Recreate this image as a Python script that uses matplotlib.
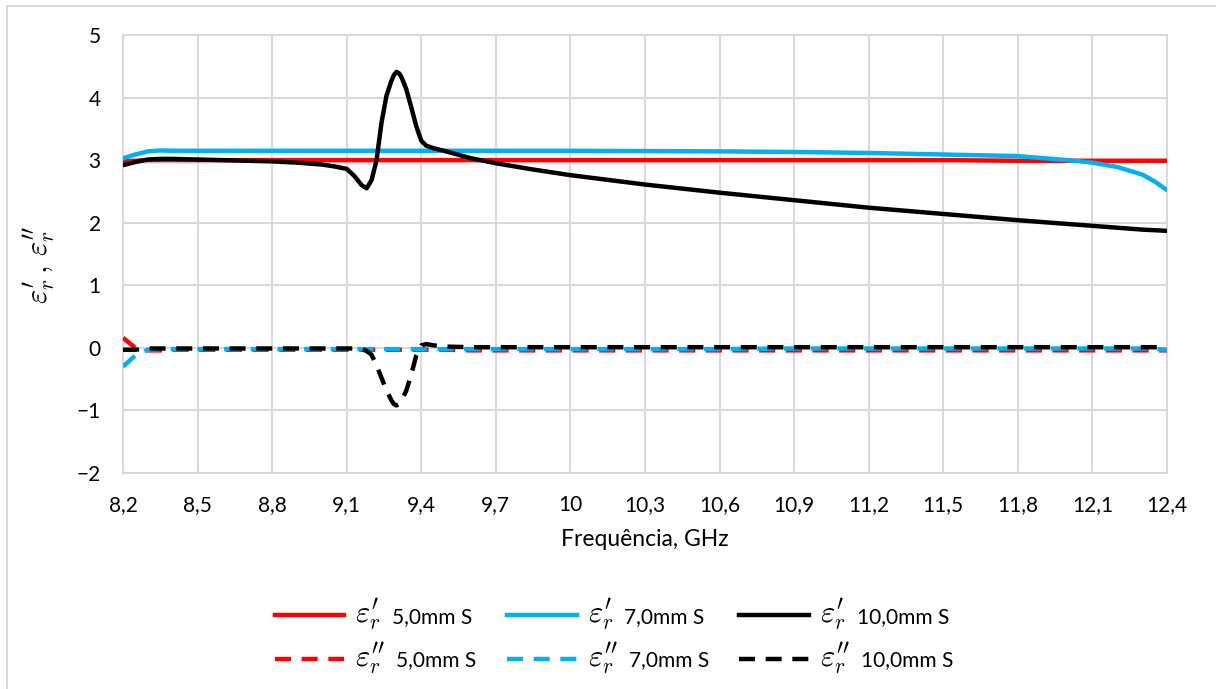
import matplotlib
matplotlib.use('Agg')
import matplotlib.pyplot as plt
from matplotlib.lines import Line2D
from matplotlib.patches import Rectangle
from matplotlib.offsetbox import (AnchoredOffsetbox, DrawingArea, HPacker,
                                  TextArea, VPacker)

plt.rcParams['font.family'] = ['Lato', 'DejaVu Sans']
plt.rcParams['mathtext.fontset'] = 'cm'

# Frequency grid (GHz) shared by all series
freq = [8.2, 8.25, 8.3, 8.35, 8.4, 8.5, 8.6, 8.7, 8.8, 8.9, 9.0, 9.05, 9.1,
        9.13, 9.16, 9.18, 9.2, 9.22, 9.24, 9.26, 9.28, 9.29, 9.3, 9.31, 9.32,
        9.34, 9.36, 9.38, 9.4, 9.42, 9.45, 9.5, 9.6, 9.7, 9.85, 10.0, 10.3,
        10.6, 10.9, 11.2, 11.5, 11.8, 12.0, 12.1, 12.2, 12.3, 12.35, 12.4]

# real part, eps'
eps1_5mm = [2.98, 2.99, 3.00, 3.00, 3.00, 3.00, 3.00, 3.00, 3.00, 3.00, 3.00,
            3.00, 3.00, 3.00, 3.00, 3.00, 3.00, 3.00, 3.00, 3.00, 3.00, 3.00,
            3.00, 3.00, 3.00, 3.00, 3.00, 3.00, 3.00, 3.00, 3.00, 3.00, 3.00,
            3.00, 3.00, 3.00, 3.00, 3.00, 3.00, 3.00, 3.00, 2.99, 2.99, 2.99,
            2.99, 2.99, 2.99, 2.99]
eps1_7mm = [3.03, 3.09, 3.14, 3.155, 3.15, 3.15, 3.15, 3.15, 3.15, 3.15, 3.15,
            3.15, 3.15, 3.15, 3.15, 3.15, 3.15, 3.15, 3.15, 3.15, 3.15, 3.15,
            3.15, 3.15, 3.15, 3.15, 3.15, 3.15, 3.15, 3.15, 3.15, 3.15, 3.15,
            3.15, 3.15, 3.15, 3.145, 3.14, 3.13, 3.115, 3.09, 3.065, 3.00,
            2.96, 2.89, 2.77, 2.66, 2.52]
eps1_10mm = [2.92, 2.97, 3.01, 3.02, 3.02, 3.01, 3.00, 2.99, 2.98, 2.96, 2.93,
             2.90, 2.86, 2.75, 2.60, 2.55, 2.68, 3.00, 3.60, 4.03, 4.27, 4.36,
             4.41, 4.39, 4.33, 4.13, 3.84, 3.54, 3.31, 3.23, 3.19, 3.14, 3.03,
             2.95, 2.85, 2.76, 2.61, 2.48, 2.36, 2.24, 2.14, 2.04, 1.98, 1.95,
             1.92, 1.89, 1.88, 1.87]

# imaginary part, eps''
eps2_5mm = [0.16, 0.0, -0.04, -0.04, -0.03, -0.03, -0.03, -0.03, -0.03, -0.03,
            -0.03, -0.03, -0.03, -0.03, -0.03, -0.03, -0.03, -0.03, -0.03,
            -0.03, -0.03, -0.03, -0.03, -0.03, -0.03, -0.03, -0.03, -0.03,
            -0.03, -0.03, -0.03, -0.03, -0.04, -0.04, -0.04, -0.04, -0.04,
            -0.04, -0.04, -0.04, -0.04, -0.04, -0.04, -0.04, -0.04, -0.04,
            -0.04, -0.04]
eps2_7mm = [-0.30, -0.12, -0.03, -0.02, -0.02, -0.02, -0.02, -0.02, -0.02,
            -0.02, -0.02, -0.02, -0.02, -0.02, -0.02, -0.02, -0.02, -0.02,
            -0.02, -0.02, -0.02, -0.02, -0.02, -0.02, -0.02, -0.02, -0.02,
            -0.02, -0.02, -0.02, -0.02, -0.02, -0.02, -0.02, -0.02, -0.02,
            -0.02, -0.02, -0.01, -0.01, -0.01, -0.01, -0.01, -0.01, -0.01,
            -0.01, -0.02, -0.03]
eps2_10mm = [-0.03, -0.03, -0.01, -0.01, -0.01, -0.01, -0.01, -0.01, -0.01,
             -0.01, -0.01, -0.01, -0.01, -0.01, -0.02, -0.05, -0.11, -0.28,
             -0.48, -0.68, -0.84, -0.90, -0.92, -0.90, -0.85, -0.68, -0.42,
             -0.12, 0.04, 0.06, 0.04, 0.02, 0.01, 0.01, 0.01, 0.01, 0.01, 0.01,
             0.01, 0.01, 0.01, 0.01, 0.01, 0.01, 0.01, 0.01, 0.01, 0.01]

xticks = [8.2, 8.5, 8.8, 9.1, 9.4, 9.7, 10.0, 10.3, 10.6, 10.9, 11.2, 11.5,
          11.8, 12.1, 12.4]
xtick_labels = ['8,2', '8,5', '8,8', '9,1', '9,4', '9,7', '10', '10,3', '10,6',
                '10,9', '11,2', '11,5', '11,8', '12,1', '12,4']
yticks = [-2, -1, 0, 1, 2, 3, 4, 5]

samples = ['5,0mm S', '7,0mm S', '10,0mm S']
colors = ['#FF0000', '#00B0F0', '#000000']
real_parts = [eps1_5mm, eps1_7mm, eps1_10mm]
imag_parts = [eps2_5mm, eps2_7mm, eps2_10mm]

GRID = '#D9D9D9'
LW = 3.2
DASH = (0, (3.6, 2.4))
SYM_RE = r"$\varepsilon_r'$"
SYM_IM = r"$\varepsilon_r''$"

fig = plt.figure(figsize=(12.16, 6.89), dpi=100)
ax = fig.add_axes([0.10115, 0.3135, 0.85855, 0.6357])

for c, re_vals in zip(colors, real_parts):
    ax.plot(freq, re_vals, color=c, lw=LW, solid_capstyle='round', zorder=3)
for c, im_vals in zip(colors, imag_parts):
    ax.plot(freq, im_vals, color=c, lw=LW, linestyle=DASH,
            dash_capstyle='butt', zorder=3)

ax.set_xlim(8.2, 12.4)
ax.set_ylim(-2, 5)
ax.set_xticks(xticks)
ax.set_xticklabels(xtick_labels)
ax.set_yticks(yticks)
ax.tick_params(length=0, labelsize=15, colors='#000000', pad=16)
ax.grid(True, color=GRID, lw=1.5)
ax.set_axisbelow(True)
for sp in ax.spines.values():
    sp.set_color(GRID)
    sp.set_linewidth(1.5)

ax.set_xlabel('Frequência, GHz', fontsize=16.5, labelpad=10)
ax.set_ylabel(r"$\varepsilon_r'\,,\,\varepsilon_r''$", fontsize=22)
ax.yaxis.set_label_coords(-0.062, 0.475)


def legend_entry(color, style, sym, name):
    da = DrawingArea(50, 12, 0, 0)
    if style == 'solid':
        da.add_artist(Line2D([0, 50], [5.4, 5.4], color=color, lw=LW))
    else:
        da.add_artist(Line2D([0, 50], [5.4, 5.4], color=color, lw=LW,
                             linestyle=DASH, dash_capstyle='butt'))
    sym_box = TextArea(sym, textprops=dict(fontsize=22))
    name_box = TextArea(name, textprops=dict(fontsize=15))
    return HPacker(children=[da, sym_box, name_box], align='baseline',
                   pad=0, sep=8)


columns = []
for c, name in zip(colors, samples):
    col = VPacker(children=[legend_entry(c, 'solid', SYM_RE, name),
                            legend_entry(c, 'dashed', SYM_IM, name)],
                  align='left', pad=0, sep=5)
    columns.append(col)
leg_box = HPacker(children=columns, align='top', pad=0, sep=22)
anchored = AnchoredOffsetbox(loc='center', child=leg_box, pad=0,
                             frameon=False, bbox_to_anchor=(0.505, 0.076),
                             bbox_transform=fig.transFigure, borderpad=0)
fig.add_artist(anchored)

# chart area border (Excel style)
fig.add_artist(Rectangle((7 / 1216, -0.1), 1.2, 1.1 - 6 / 689,
                         transform=fig.transFigure, fill=False,
                         edgecolor=GRID, lw=1.5))

fig.savefig('out.png', dpi=100)
